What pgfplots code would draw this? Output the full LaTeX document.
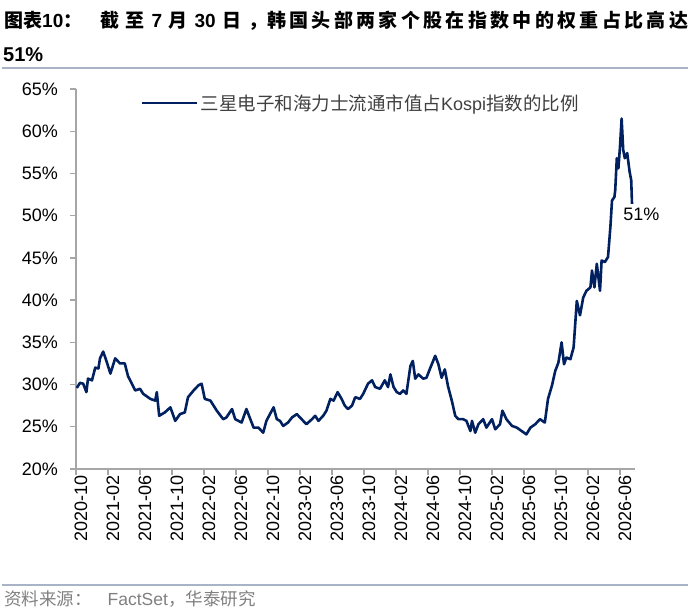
\documentclass[border=0pt]{standalone}
\usepackage{pgfplots}
\pgfplotsset{compat=1.18}
\usepackage{fontspec}
\setmainfont{Liberation Sans}
\newfontfamily\cjk{Noto Sans CJK SC}
\definecolor{navy}{HTML}{002060}
\definecolor{axgray}{HTML}{A6A6A6}
\definecolor{sepgray}{HTML}{A9B3C6}
\definecolor{srcgray}{HTML}{808080}
\definecolor{txtgray}{HTML}{404040}
\pgfplotstableread{
m v
0.1 29.6
0.5 30.2
0.9 30.1
1.3 29.1
1.5 30.7
2.0 30.5
2.4 32.0
2.8 31.9
3.0 33.1
3.4 33.9
3.8 32.8
4.3 31.3
4.9 33.1
5.5 32.5
6.1 32.5
6.5 31.0
7.4 29.3
8.0 29.5
8.4 28.9
9.3 28.3
9.9 28.1
10.1 29.1
10.4 26.3
11.1 26.7
11.8 27.3
12.4 25.7
13.0 26.5
13.6 26.7
14.0 28.5
14.7 29.3
15.3 29.9
15.7 30.1
16.1 28.3
16.8 28.1
17.6 26.9
18.4 25.9
18.8 26.1
19.5 27.1
19.9 25.9
20.7 25.5
21.3 27.1
22.2 24.9
22.8 24.9
23.4 24.3
23.8 25.7
24.3 26.6
24.7 27.3
25.1 25.9
25.5 25.7
25.9 25.1
26.5 25.5
27.0 26.1
27.6 26.5
28.2 25.9
28.8 25.3
29.5 25.9
29.9 26.3
30.3 25.7
30.9 26.3
31.3 26.9
31.8 28.3
32.2 28.1
32.7 29.1
33.2 28.3
33.6 27.5
34.0 27.1
34.5 27.5
34.9 28.5
35.5 28.3
35.9 28.9
36.5 30.1
37.0 30.5
37.4 29.7
38.0 29.5
38.6 30.5
39.0 29.7
39.3 31.2
39.7 29.7
40.1 29.1
40.5 28.9
40.9 29.3
41.3 28.9
41.8 32.2
42.1 32.8
42.4 30.7
42.8 31.2
43.4 30.7
43.8 30.8
44.3 32.0
44.9 33.4
45.3 32.4
45.7 30.8
46.1 31.8
46.5 29.8
47.0 28.0
47.4 26.3
47.8 25.9
48.4 25.9
48.8 25.7
49.3 24.5
49.5 25.7
49.9 24.3
50.3 25.3
50.9 25.9
51.3 24.9
52.0 25.9
52.4 24.7
53.0 25.3
53.3 26.9
53.8 25.9
54.5 25.1
55.1 24.9
55.7 24.5
56.3 24.1
56.8 24.9
57.4 25.3
58.0 25.9
58.6 25.5
59.0 28.3
59.5 29.9
59.9 31.6
60.3 32.6
60.7 35.0
61.0 32.4
61.3 33.2
61.8 33.0
62.2 34.4
62.6 39.9
63.0 38.2
63.4 40.3
63.8 41.1
64.3 41.5
64.5 43.5
64.8 41.5
65.1 44.3
65.5 41.1
65.7 44.7
66.1 44.5
66.5 45.1
66.8 48.7
67.0 51.8
67.3 52.2
67.4 53.0
67.6 56.8
67.8 55.6
68.0 58.2
68.2 61.5
68.4 57.8
68.6 56.8
68.9 57.4
69.2 55.2
69.4 54.2
69.5 51.4
}\share
\begin{document}
\begin{tikzpicture}[x=1bp,y=1bp]
\useasboundingbox (0,0) rectangle (693,615);
% title
\node[anchor=base west,inner sep=0] at (4,587) {\fontsize{19bp}{20bp}\selectfont\cjk\bfseries 图表{\normalfont\fontsize{19bp}{20bp}\selectfont\bfseries 10}：};
\node[anchor=base west,inner sep=0] at (100,587) {\fontsize{19bp}{20bp}\selectfont\makebox[167bp][s]{\cjk\bfseries 截\hfill 至\hfill{\normalfont\fontsize{19bp}{20bp}\selectfont\bfseries 7}\hfill 月\hfill{\normalfont\fontsize{19bp}{20bp}\selectfont\bfseries 30}\hfill 日\hfill ，}};
\node[anchor=base west,inner sep=0] at (267,587) {\fontsize{19bp}{20bp}\selectfont\makebox[421bp][s]{\cjk\bfseries 韩\hfill 国\hfill 头\hfill 部\hfill 两\hfill 家\hfill 个\hfill 股\hfill 在\hfill 指\hfill 数\hfill 中\hfill 的\hfill 权\hfill 重\hfill 占\hfill 比\hfill 高\hfill 达}};
\node[anchor=base west,inner sep=0] at (3,553) {\fontsize{20bp}{22bp}\selectfont\bfseries 51\%};
\draw[sepgray,line width=1.5bp] (2,547) -- (688,547);
% source
\draw[sepgray,line width=1.5bp] (2,30) -- (688,30);
\node[anchor=base west,inner sep=0,text=srcgray] at (4,9) {\fontsize{17.5bp}{20bp}\selectfont{\cjk 资料来源：}\hspace{16bp}FactSet{\cjk ，华泰研究}};
\begin{axis}[
  at={(76bp,146bp)}, anchor=south west,
  scale only axis, width=559bp, height=380bp,
  xmin=0, xmax=69.875, ymin=20, ymax=65,
  axis x line*=bottom, axis y line*=left,
  axis line style={axgray,line width=1.3bp,-},
  tick align=outside, major tick length=6bp,
  major tick style={axgray,line width=1.3bp},
  /pgf/number format/assume math mode=true,
  ytick={20,25,...,65},
  yticklabel={\pgfmathprintnumber{\tick}\%},
  xtick={0,4,...,68},
  xticklabels={2020-10,2021-02,2021-06,2021-10,2022-02,2022-06,2022-10,2023-02,2023-06,2023-10,2024-02,2024-06,2024-10,2025-02,2025-06,2025-10,2026-02,2026-06},
  tick label style={font=\fontsize{18bp}{20bp}\selectfont, text=black},
  yticklabel style={anchor=east,inner sep=0pt,xshift=-12bp},
  xticklabel style={rotate=90,anchor=east,inner sep=0pt,yshift=-5bp},
  legend style={at={(0.1145,0.963)},anchor=west,draw=none,fill=none,inner sep=0pt,
    font=\fontsize{18bp}{20bp}\selectfont, text=txtgray,
    nodes={inner sep=2.5bp}},
  legend image code/.code={\draw[#1,line width=2.8bp] (0bp,0bp) -- (55bp,0bp);},
  clip=false,
]
\addplot[navy,line width=2.6bp,line join=round] table[x=m,y=v] {\share};
\addlegendentry{{\cjk\fontsize{18.5bp}{20bp}\selectfont 三星电子和海力士流通市值占}Kospi{\cjk\fontsize{18.5bp}{20bp}\selectfont 指数的比例}}
\node[anchor=west,inner sep=0,font=\fontsize{18bp}{20bp}\selectfont] at (axis cs:68.4,50.1) {51\%};
\end{axis}
\end{tikzpicture}
\end{document}
